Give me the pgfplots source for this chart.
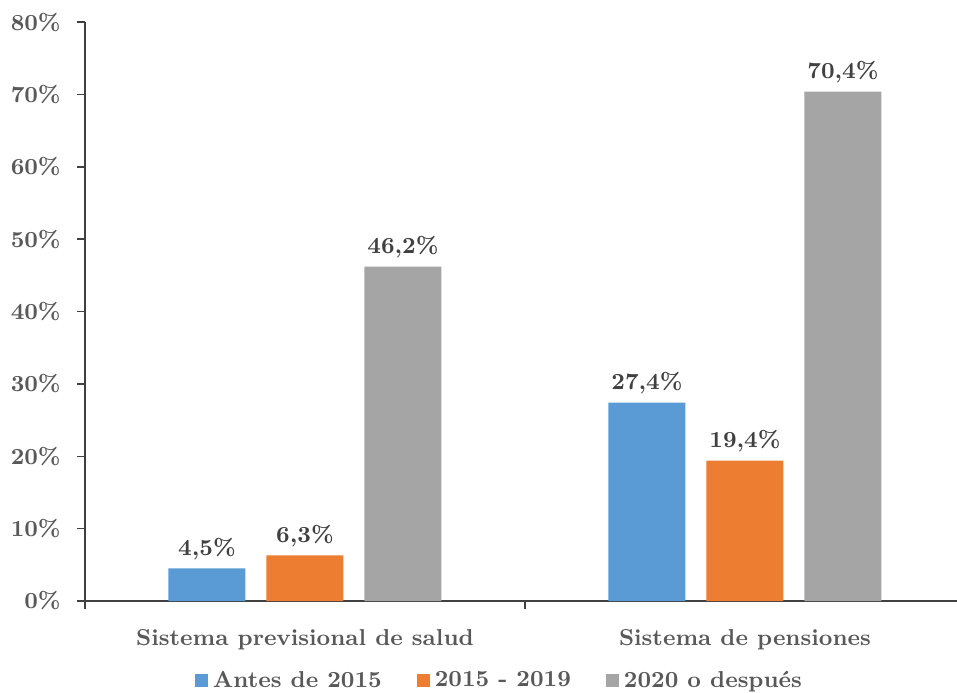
\documentclass[border=0pt]{standalone}
\usepackage{fontspec}
\usepackage{pgfplots}
\pgfplotsset{compat=1.18}
\definecolor{cblue}{HTML}{5B9BD5}
\definecolor{corange}{HTML}{ED7D31}
\definecolor{cgray}{HTML}{A5A5A5}
\definecolor{txt}{HTML}{595959}
\definecolor{lbl}{HTML}{404040}
\definecolor{axc}{HTML}{404040}
\newcommand{\ff}{\fontsize{9.2}{11}\selectfont\bfseries}
\begin{document}
\begin{tikzpicture}
\useasboundingbox (-34pt,-36.4pt) rectangle (348.8pt,240.4pt);
\begin{axis}[
  at={(0,0)}, anchor=south west,
  scale only axis, width=348.8pt, height=231.6pt,
  xmin=-0.5, xmax=1.482, ymin=0, ymax=80,
  axis x line*=bottom, axis y line*=left,
  axis line style={axc, line width=0.6pt},
  every tick/.style={axc, line width=0.6pt},
  tick align=outside, major tick length=3.2pt,
  ytick={0,10,...,80},
  /pgf/number format/assume math mode=true,
  yticklabel={\pgfmathprintnumber{\tick}\%},
  yticklabel style={font=\ff, text=txt, xshift=-3pt},
  xtick={0,1},
  xtick style={draw=none},
  xticklabels={Sistema previsional de salud, Sistema de pensiones},
  xticklabel style={font=\ff, text=txt, yshift=-4.8pt},
  extra x ticks={-0.5,0.5},
  extra x tick labels={},
  extra x tick style={xtick style={draw=axc}},
  ybar=8.4pt, bar width=30.8pt,
  nodes near coords={\pgfmathprintnumber[fixed,fixed zerofill,precision=1,use comma,assume math mode=true]{\pgfplotspointmeta}\%},
  every node near coord/.append style={font=\ff, text=lbl},
  legend style={at={(0.477,-0.138)}, anchor=center, draw=none, legend columns=-1,
    font=\ff, text=txt, /tikz/every even column/.append style={column sep=12pt}},
  legend image code/.code={\fill[#1] (0pt,-2.6pt) rectangle (5.2pt,2.6pt);},
]
\addplot[draw=none, fill=cblue] coordinates {(0,4.5) (1,27.4)};
\addplot[draw=none, fill=corange] coordinates {(0,6.3) (1,19.4)};
\addplot[draw=none, fill=cgray] coordinates {(0,46.2) (1,70.4)};
\legend{Antes de 2015, 2015 - 2019, 2020 o después}
\end{axis}
\end{tikzpicture}
\end{document}
